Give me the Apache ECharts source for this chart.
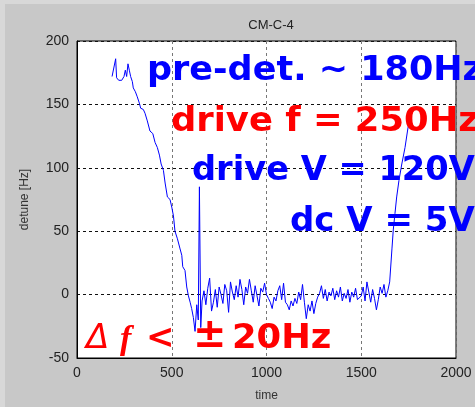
<!DOCTYPE html>
<html>
<head>
<meta charset="utf-8">
<script src="https://cdn.jsdelivr.net/npm/echarts@6/dist/echarts.min.js"></script>
<style>html,body{margin:0;padding:0;background:#c8c8c8;}#c{width:475px;height:407px;}</style>
</head>
<body>
<div id="c"></div>
<script>
// time samples (x) and detune values (y, Hz)
const time = [185,204,209,220,236,248,255,262,269,276,283,292,297,308,318,329,336,350,359,371,385,400,412,424,435,444,456,465,477,491,500,509,517,530,544,553,558,570,579,588,597,605,614,623,632,640,646,653,
660,670,680,690,700,710,720,730,740,750,760,770,780,790,800,810,820,830,840,850,860,870,880,890,900,910,920,930,940,950,960,970,980,990,
1000,1010,1020,1030,1040,1050,1060,1070,1080,1090,1100,1110,1120,1130,1140,1150,1160,1170,1180,1190,1200,1210,1220,1230,1240,1250,1260,1270,1280,1290,
1300,1310,1320,1330,1340,1350,1360,1370,1380,1390,1400,1410,1420,1430,1440,1450,1460,1470,1480,1490,1500,1510,1520,1530,1540,1550,1560,1570,1580,1590,
1600,1610,1620,1630,1640,1650,1662,1669,1678,1687,1699,1714,1731,1744,1754,1758,1761];
const detune = [172,186,171,169,169,172,177,172,182,177,172,168,163,160,156,151,147,146,143,137,129,127,120,116,110,103,98,88,77,75,69,62,50,44,36,31,22,19,6,-1,-6,-11,-18,-29,-8,-20,85,-26,
-5,3,-8,5,13,-13,-6,4,-10,6,0,-7,8,3,-14,10,2,-4,7,-2,12,4,-8,6,1,12,3,-6,7,-1,-9,5,2,9,
0,-3,-6,-11,-2,-5,3,7,-4,9,-6,-8,-12,-5,-9,-3,-7,2,-4,8,-6,-19,-8,-13,-5,-15,-7,-2,1,7,
-3,4,-5,2,-1,5,-4,3,-2,6,-5,1,-3,4,-6,2,-2,5,-4,-3,-1,6,-5,10,2,-6,4,-3,-12,-4,
6,1,8,-2,3,10,36,51,64,77,90,103,116,129,138,141,136];
const xTicks = [0,500,1000,1500,2000];
const yTicks = [-50,0,50,100,150,200];
const titleText = 'CM-C-4';
const notes = ['pre-det. ~ 180Hz','drive f = 250Hz','drive V = 120V','dc V = 5V'];
const noteParts = ['Δ','f','<','±','20Hz'];

const chart = echarts.init(document.getElementById('c'), null, {renderer:'canvas'});
const pts = time.map((t,i)=>[t, detune[i]]);
const F = 'bold 34px "DejaVu Sans"';
chart.setOption({
  backgroundColor:'#c8c8c8',
  animation:false,
  title:{text:titleText,left:266,top:14,textAlign:'center',
    textStyle:{fontFamily:'Liberation Sans',fontSize:13,fontWeight:'normal',color:'#222'}},
  grid:{left:77,top:41,right:19,bottom:47,show:true,backgroundColor:'#fff',borderColor:'#000',borderWidth:1},
  xAxis:{type:'value',min:xTicks[0],max:xTicks[xTicks.length-1],interval:500,
    name:'time',nameLocation:'middle',nameGap:32,
    nameTextStyle:{fontFamily:'Liberation Sans',fontSize:12,color:'#333'},
    axisLine:{onZero:false,lineStyle:{color:'#000'}},axisTick:{show:false},
    axisLabel:{fontFamily:'Liberation Sans',fontSize:14,color:'#222',margin:8,formatter:v=>String(v)},
    splitLine:{show:true,lineStyle:{type:[3,3],color:'#777',width:1}}},
  yAxis:{type:'value',min:yTicks[0],max:yTicks[yTicks.length-1],interval:50,
    name:'detune [Hz]',nameLocation:'middle',nameGap:46,
    nameTextStyle:{fontFamily:'Liberation Sans',fontSize:12,color:'#333'},
    axisLine:{show:true,onZero:false,lineStyle:{color:'#000'}},axisTick:{show:false},
    axisLabel:{fontFamily:'Liberation Sans',fontSize:14,color:'#222',margin:8,formatter:v=>String(v)},
    splitLine:{show:true,lineStyle:{type:[3,3],color:'#111',width:1}}},
  series:[{type:'line',data:pts,showSymbol:false,symbol:'none',
    lineStyle:{color:'#0000ff',width:1},z:3}],
  graphic:[
    {type:'rect',shape:{x:0,y:0,width:475,height:4},style:{fill:'#d8d8d8'},z:0,silent:true},
    {type:'rect',shape:{x:0,y:0,width:5,height:407},style:{fill:'#d8d8d8'},z:0,silent:true},
    {type:'text',x:147,y:71,scaleX:1.03,z:100,style:{text:notes[0],fill:'#0000ff',font:F,textVerticalAlign:'middle'}},
    {type:'text',x:171,y:122,scaleX:1.04,z:100,style:{text:notes[1],fill:'#ff0000',font:F,textVerticalAlign:'middle'}},
    {type:'text',x:192,y:171,scaleX:0.99,z:100,style:{text:notes[2],fill:'#0000ff',font:F,textVerticalAlign:'middle'}},
    {type:'text',x:290,y:222,z:100,style:{text:notes[3],fill:'#0000ff',font:F,textVerticalAlign:'middle'}},
    {type:'text',x:86,y:339,z:100,style:{text:noteParts[0],fill:'#ff0000',font:'italic 34px "DejaVu Sans"',textVerticalAlign:'middle'}},
    {type:'text',x:120,y:340,z:100,style:{text:noteParts[1],fill:'#ff0000',font:'italic bold 34px "Liberation Serif"',textVerticalAlign:'middle'}},
    {type:'text',x:146,y:339,z:100,style:{text:noteParts[2],fill:'#ff0000',font:F,textVerticalAlign:'middle'}},
    {type:'text',x:193,y:337,z:100,style:{text:noteParts[3],fill:'#ff0000',font:'bold 40px "DejaVu Sans"',textVerticalAlign:'middle'}},
    {type:'text',x:232,y:339,scaleX:1.04,z:100,style:{text:noteParts[4],fill:'#ff0000',font:F,textVerticalAlign:'middle'}}
  ]
});
</script>
</body>
</html>
